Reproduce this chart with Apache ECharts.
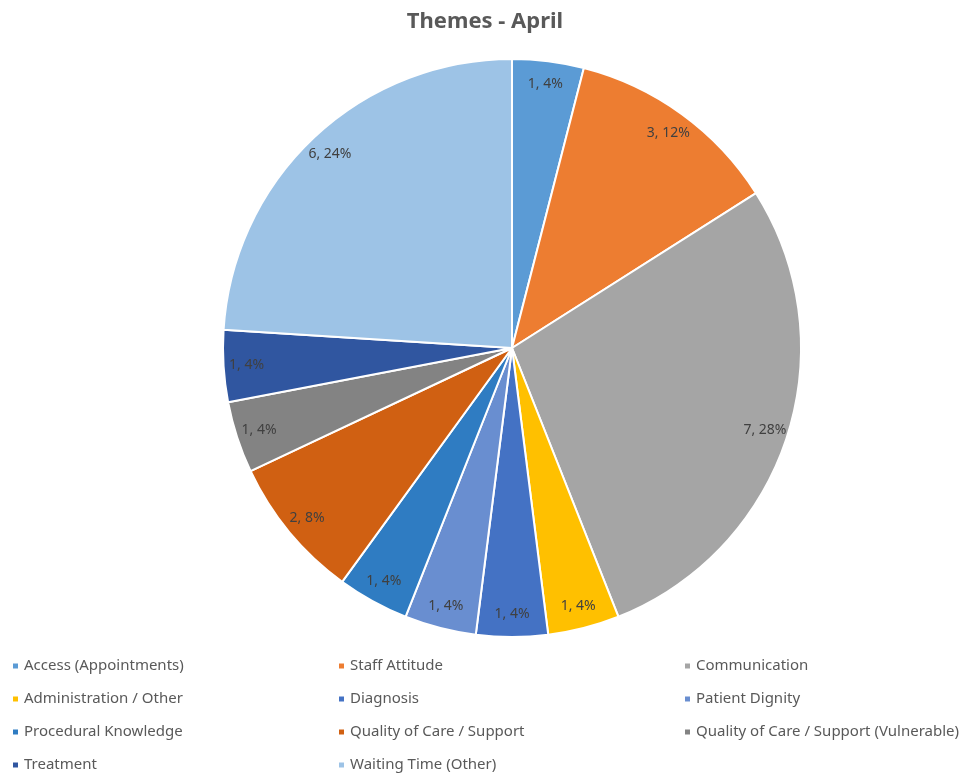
<!DOCTYPE html>
<html>
<head>
<meta charset="utf-8">
<script src="https://cdn.jsdelivr.net/npm/echarts@6/dist/echarts.min.js"></script>
<style>
  html, body { margin: 0; padding: 0; background: #fff; }
  #chart { width: 970px; height: 773px; }
</style>
</head>
<body>
<div id="chart"></div>
<script>
// themes and counts
var themes = [
    'Access (Appointments)', 'Staff Attitude', 'Communication',
    'Administration / Other', 'Diagnosis', 'Patient Dignity',
    'Procedural Knowledge', 'Quality of Care / Support',
    'Quality of Care / Support (Vulnerable)', 'Treatment', 'Waiting Time (Other)'
];
var counts = [1, 3, 7, 1, 1, 1, 1, 2, 1, 1, 6];
var sliceColors = [
    '#5B9BD5', '#ED7D31', '#A5A5A5', '#FFC000', '#4472C4', '#698ED0',
    '#2F7CC2', '#D06012', '#838383', '#3056A0', '#9DC3E6'
];

var chart = echarts.init(document.getElementById('chart'));

var pieData = themes.map(function (name, i) {
    return { name: name, value: counts[i], itemStyle: { color: sliceColors[i] } };
});

// legend is 3 columns, filled row by row
var cols = [[], [], []];
themes.forEach(function (name, i) { cols[i % 3].push(name); });
var colLeft = [11, 337, 683];

var legendBase = {
    orient: 'vertical',
    top: 658,
    height: 115,
    padding: 0,
    itemWidth: 7,
    itemHeight: 7,
    itemGap: 17,
    icon: 'rect',
    selectedMode: false,
    textStyle: { color: '#595959', fontSize: 15, fontFamily: 'Noto Sans', lineHeight: 16 }
};
var legends = cols.map(function (c, i) {
    return Object.assign({}, legendBase, { left: colLeft[i], data: c });
});

var center = [512, 348];
var R = 289;

var options = {
    animation: false,
    title: {
        text: 'Themes - April',
        left: 'center',
        top: 6,
        textStyle: { color: '#595959', fontSize: 22, fontWeight: 'bold', fontFamily: 'Noto Sans' }
    },
    legend: legends,
    series: [
        {
            type: 'pie',
            center: center,
            radius: [0, R],
            startAngle: 90,
            clockwise: true,
            data: pieData,
            label: { show: false },
            labelLine: { show: false },
            itemStyle: { borderColor: '#fff', borderWidth: 2 },
            silent: true
        },
        {
            // transparent ring only used to place the labels near the rim
            type: 'pie',
            center: center,
            radius: [236, 290],
            startAngle: 90,
            clockwise: true,
            percentPrecision: 0,
            data: pieData.map(function (d) { return { name: d.name, value: d.value }; }),
            itemStyle: { color: 'rgba(0,0,0,0)' },
            label: {
                show: true,
                position: 'inside',
                formatter: '{c}, {d}%',
                color: '#404040',
                fontSize: 14,
                fontFamily: 'Noto Sans'
            },
            labelLine: { show: false },
            silent: true,
            legendHoverLink: false
        }
    ]
};
chart.setOption(options);
</script>
</body>
</html>
